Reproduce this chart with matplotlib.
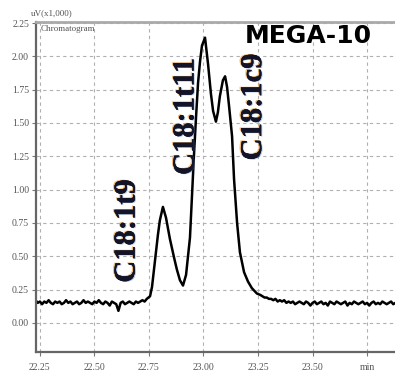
import numpy as np
import matplotlib
matplotlib.use("Agg")
import matplotlib.pyplot as plt
import matplotlib.patheffects as pe

# ---- data (time in min, signal in uV x1000) ----
# flat baseline before the peaks, one reading every 0.01 min from 22.23
base_left = [0.17, 0.15, 0.16, 0.14, 0.16, 0.15, 0.17, 0.15, 0.14, 0.16,
             0.15, 0.16, 0.14, 0.15, 0.17, 0.15, 0.16, 0.14, 0.15, 0.16,
             0.14, 0.15, 0.17, 0.15, 0.16, 0.15, 0.14, 0.16, 0.15, 0.17,
             0.15, 0.14, 0.16, 0.15, 0.13, 0.16, 0.15, 0.14, 0.09, 0.15,
             0.16, 0.14, 0.15, 0.16, 0.15, 0.14, 0.16, 0.15, 0.16, 0.17,
             0.16, 0.18]
# the three peaks
peak_time = [22.755, 22.764, 22.778, 22.791, 22.800, 22.814, 22.828, 22.846,
             22.865, 22.878, 22.892, 22.906, 22.920, 22.929, 22.938, 22.947,
             22.956, 22.966, 22.975, 22.984, 22.993, 23.007, 23.021, 23.034,
             23.044, 23.057, 23.066, 23.075, 23.089, 23.099, 23.108, 23.117,
             23.131, 23.140, 23.154, 23.167, 23.186, 23.204, 23.222, 23.245]
peak_sig = [0.20, 0.27, 0.47, 0.66, 0.77, 0.87, 0.79, 0.63,
            0.49, 0.40, 0.32, 0.28, 0.36, 0.50, 0.64, 0.95,
            1.25, 1.55, 1.80, 1.96, 2.08, 2.14, 1.94, 1.72,
            1.59, 1.51, 1.58, 1.70, 1.82, 1.85, 1.77, 1.63,
            1.40, 1.08, 0.75, 0.53, 0.38, 0.31, 0.26, 0.22]
# tail after the peaks, one reading every 0.01 min from 23.26
base_right = [0.21, 0.20, 0.19, 0.19, 0.18, 0.18, 0.17, 0.18, 0.16, 0.17,
              0.16, 0.17, 0.15, 0.16, 0.15, 0.16, 0.14, 0.15, 0.16, 0.15,
              0.14, 0.16, 0.15, 0.13, 0.15, 0.16, 0.14, 0.15, 0.16, 0.14,
              0.15, 0.13, 0.16, 0.15, 0.14, 0.16, 0.15, 0.14, 0.15, 0.16,
              0.13, 0.15, 0.14, 0.16, 0.15, 0.14, 0.15, 0.16, 0.14, 0.15,
              0.13, 0.15, 0.16, 0.14, 0.15, 0.14, 0.16, 0.15, 0.14, 0.15,
              0.16, 0.14, 0.15]

peak_names = ["C18:1t9", "C18:1t11", "C18:1c9"]
label_pos = [(22.65, 0.69), (22.92, 1.55), (23.23, 1.62)]

x_ticks = [22.25, 22.50, 22.75, 23.00, 23.25, 23.50, 23.75]
x_ticklabels = ["22.25", "22.50", "22.75", "23.00", "23.25", "23.50", "min"]
y_ticks = [0.00, 0.25, 0.50, 0.75, 1.00, 1.25, 1.50, 1.75, 2.00, 2.25]

serif = ["Liberation Serif", "Times New Roman", "DejaVu Serif"]

t_left = 22.23 + 0.01 * np.arange(len(base_left))
t_right = 23.26 + 0.01 * np.arange(len(base_right))
time = np.concatenate([t_left, peak_time, t_right])
signal = np.concatenate([base_left, peak_sig, base_right])

fig = plt.figure(figsize=(3.95, 3.72), dpi=100)
ax = fig.add_axes([0.0911, 0.054, 0.9089, 0.887])

ax.plot(time, signal, color="black", lw=1.8, solid_joinstyle="round")

ax.set_xlim(22.232, 23.878)
ax.set_ylim(-0.218, 2.258)
ax.set_xticks(x_ticks)
ax.set_xticklabels(x_ticklabels)
ax.set_yticks(y_ticks)
ax.set_yticklabels(["%.2f" % v for v in y_ticks])
ax.grid(True, color="#b0b0b0", linestyle=(0, (3, 3)), linewidth=0.8)

for lbl in ax.get_xticklabels() + ax.get_yticklabels():
    lbl.set_fontfamily(serif)
    lbl.set_fontsize(7)
    lbl.set_color("#555555")
ax.tick_params(axis="both", length=3, width=0.8, color="#777777", pad=2)
ax.tick_params(axis="x", pad=5)

for side in ["left", "bottom"]:
    ax.spines[side].set_color("#666666")
    ax.spines[side].set_linewidth(1.6)
ax.spines["top"].set_color("#aaaaaa")
ax.spines["top"].set_linewidth(2)
ax.spines["right"].set_visible(False)

fig.text(0.078, 0.955, "uV(x1,000)", fontsize=6.5, family=serif,
         color="#555555", va="bottom")
ax.text(0.012, 0.99, "Chromatogram", transform=ax.transAxes, fontsize=6.5,
        family=serif, color="#555555", va="top")

halo = [pe.withSimplePatchShadow(offset=(-1.0, 0.5), shadow_rgbFace="#e89a3a",
                                 alpha=0.7),
        pe.withSimplePatchShadow(offset=(0.8, -0.5), shadow_rgbFace="#3a70c0",
                                 alpha=0.4),
        pe.Normal()]
for name, (px, py) in zip(peak_names, label_pos):
    ax.text(px, py, name, rotation=90, ha="center", va="center",
            fontsize=22, fontweight="bold", family=serif,
            color="#141428", path_effects=halo)

fig.text(0.62, 0.884, "MEGA-10", fontsize=18, fontweight="bold",
         family="DejaVu Sans", color="black", va="baseline")

fig.savefig("out.png", dpi=100)
